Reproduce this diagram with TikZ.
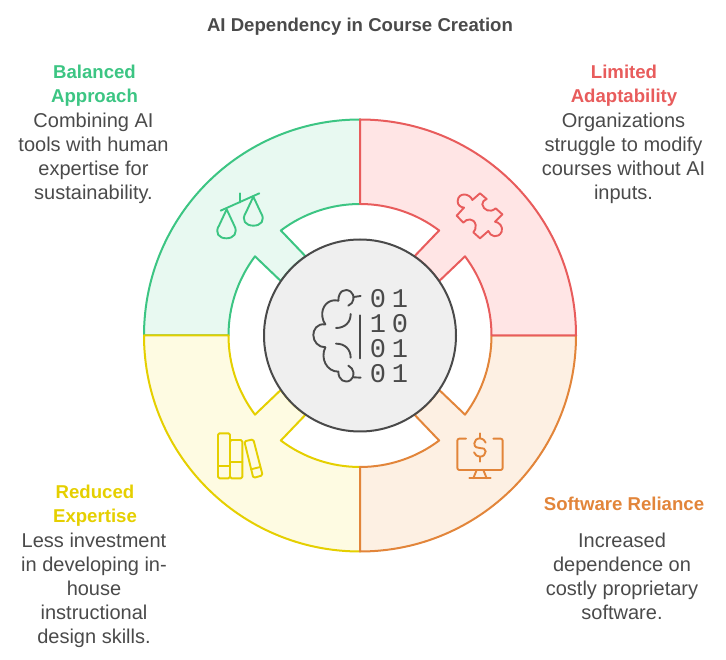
\documentclass[tikz,border=0pt]{standalone}
\usepackage{fontspec}
\setmainfont{Liberation Sans}
\newfontfamily\bitsfont{Liberation Mono}
\usetikzlibrary{arrows.meta}
\definecolor{inkgrey}{HTML}{4A4A4A}
\definecolor{discgrey}{HTML}{EFEFEF}
\definecolor{greenline}{HTML}{3CC583}
\definecolor{greenfill}{HTML}{E8F9F1}
\definecolor{redline}{HTML}{E85C5C}
\definecolor{redfill}{HTML}{FFE5E5}
\definecolor{orangeline}{HTML}{E2853A}
\definecolor{orangefill}{HTML}{FDF0E3}
\definecolor{yellowline}{HTML}{E5CF00}
\definecolor{yellowfill}{HTML}{FEFBE2}
\tikzset{
  headtext/.style={align=center,inner sep=0pt,font=\fontsize{18.6bp}{24bp}\selectfont\bfseries},
  bodytext/.style={align=center,inner sep=0pt,text=inkgrey,font=\fontsize{20bp}{24bp}\selectfont},
  bitstext/.style={inner sep=0pt,text=inkgrey,font=\fontsize{27bp}{27bp}\bitsfont},
  sector/.style={line width=2bp,line join=round},
  glyph/.style={line width=1.9bp,line cap=round,line join=round},
  crop/.style={x=0.33333bp,y=-0.33333bp},
}
\begin{document}
\begin{tikzpicture}[>=latex,line join=round]
\useasboundingbox (0bp,0bp) rectangle (726bp,660bp);
%% four sectors
\coordinate (hub) at (360bp,324.5bp);
\draw [sector,draw=greenline,fill=greenfill] ([shift={(90:216bp)}]hub) arc (90:180:216bp)
  -- ([shift={(180:131.5bp)}]hub) arc (180:143:131.5bp)
  -- ([shift={(145.5:96bp)}]hub) arc (145.5:124.5:96bp)
  -- ([shift={(127:131.5bp)}]hub) arc (127:90:131.5bp) -- cycle;
\draw [sector,draw=yellowline,fill=yellowfill] ([shift={(180:216bp)}]hub) arc (180:270:216bp)
  -- ([shift={(270:131.5bp)}]hub) arc (270:233:131.5bp)
  -- ([shift={(235.5:96bp)}]hub) arc (235.5:214.5:96bp)
  -- ([shift={(217:131.5bp)}]hub) arc (217:180:131.5bp) -- cycle;
\draw [sector,draw=orangeline,fill=orangefill] ([shift={(270:216bp)}]hub) arc (270:360:216bp)
  -- ([shift={(0:131.5bp)}]hub) arc (0:-37:131.5bp)
  -- ([shift={(-34.5:96bp)}]hub) arc (-34.5:-55.5:96bp)
  -- ([shift={(-53:131.5bp)}]hub) arc (-53:-90:131.5bp) -- cycle;
\draw [sector,draw=redline,fill=redfill] ([shift={(0:216bp)}]hub) arc (0:90:216bp)
  -- ([shift={(90:131.5bp)}]hub) arc (90:53:131.5bp)
  -- ([shift={(55.5:96bp)}]hub) arc (55.5:34.5:96bp)
  -- ([shift={(37:131.5bp)}]hub) arc (37:0:131.5bp) -- cycle;
\node (node_disc) at (hub) [circle,minimum size=192bp,inner sep=0pt,draw=inkgrey,fill=discgrey,line width=2bp] {};
%% texts
\node (node_title) at (360bp,633.5bp) [headtext,text=inkgrey] {AI Dependency in Course Creation};
\node (node_balanced) at (94.5bp,574bp) [headtext,text=greenline] {Balanced\\Approach};
\node (node_balanced_text) at (93.5bp,502bp) [bodytext] {Combining AI\\tools with human\\expertise for\\sustainability.};
\node (node_limited) at (624bp,574bp) [headtext,text=redline] {Limited\\Adaptability};
\node (node_limited_text) at (623.5bp,502bp) [bodytext] {Organizations\\struggle to modify\\courses without AI\\inputs.};
\node (node_software) at (624bp,156bp) [headtext,text=orangeline] {Software Reliance};
\node (node_software_text) at (622bp,84bp) [bodytext] {Increased\\dependence on\\costly proprietary\\software.};
\node (node_reduced) at (95bp,154bp) [headtext,text=yellowline] {Reduced\\Expertise};
\node (node_reduced_text) at (94bp,70bp) [bodytext] {Less investment\\in developing in-\\house\\instructional\\design skills.};
\node (node_bits_1) at (389bp,361bp) [bitstext] {0\hspace{5.8bp}1};
\node (node_bits_2) at (389bp,336.7bp) [bitstext] {1\hspace{5.8bp}0};
\node (node_bits_3) at (389bp,311.7bp) [bitstext] {0\hspace{5.8bp}1};
\node (node_bits_4) at (389bp,286.7bp) [bitstext] {0\hspace{5.8bp}1};
%% brain
\begin{scope}[shift={(260bp,425bp)},crop,glyph,draw=inkgrey]
  \draw (265,212) ..controls (283,205) and (286,180) .. (272,170) ..controls (255,158) and (235,168) .. (235,197);
  \draw (281,186) -- (302,183);
  \draw (235,197) ..controls (205,190) and (183,215) .. (187,245) ..controls (188,255) and (192,262) .. (196,268);
  \draw (196,268) ..controls (170,265) and (160,285) .. (160,300) ..controls (160,320) and (175,337) .. (196,337);
  \draw (196,337) ..controls (180,370) and (200,410) .. (235,410);
  \draw (235,410) ..controls (235,435) and (255,447) .. (272,435) ..controls (286,425) and (283,400) .. (265,392);
  \draw (281,427) -- (302,428);
  \draw (228,279) ..controls (255,279) and (272,262) .. (272,237);
  \draw (228,326) ..controls (255,326) and (272,343) .. (272,368);
  \draw (300,241) -- (300,370);
\end{scope}
%% scales
\begin{scope}[shift={(200bp,490bp)},crop,glyph,draw=greenline]
  \draw (62,122) -- (178,70);
  \draw (120,70) -- (120,97);
  \draw (80,118) -- (58,165) ..controls (42,190) and (58,205) .. (79,205) ..controls (100,205) and (116,190) .. (102,165) -- cycle;
  \draw (160,80) -- (138,127) ..controls (122,152) and (138,167) .. (160,167) ..controls (182,167) and (198,152) .. (182,127) -- cycle;
\end{scope}
%% puzzle
\begin{scope}[shift={(440bp,485bp)},crop,glyph,draw=redline]
  \draw (120,55) -- (97,75) ..controls (90,55) and (55,50) .. (53,78) ..controls (52,90) and (62,97) .. (72,98)
    -- (50,122) -- (70,143) ..controls (80,130) and (102,128) .. (107,150) ..controls (108,160) and (105,167) .. (100,172)
    -- (120,190) -- (145,168) ..controls (150,185) and (175,192) .. (185,170) ..controls (190,155) and (178,142) .. (165,140)
    -- (187,118) -- (167,100) ..controls (150,115) and (130,105) .. (127,88) ..controls (127,80) and (132,75) .. (140,72) -- cycle;
\end{scope}
%% books
\begin{scope}[shift={(200bp,260bp)},crop,glyph,draw=yellowline]
  \draw [rounded corners=1.5bp] (54,100) rectangle (90,235);
  \draw (54,198) -- (90,198);
  \draw [rounded corners=1.5bp] (90,120) rectangle (127,235);
  \draw (90,187) -- (127,187);
  \draw [rounded corners=1.5bp] (133,124) -- (160,118) -- (188,226) -- (160,234) -- cycle;
  \draw (153,208) -- (181,201);
\end{scope}
%% monitor
\begin{scope}[shift={(430bp,250bp)},crop,glyph,draw=orangeline]
  \draw [rounded corners=2bp] (108,86) -- (82,86) -- (82,180) -- (218,180) -- (218,86) -- (190,86);
  \draw (140,180) -- (130,205);
  \draw (160,180) -- (170,205);
  \draw (118,205) -- (182,205);
  \draw (150,70) -- (150,85);
  \draw (150,140) -- (150,155);
  \draw (167,98) ..controls (162,88) and (155,85) .. (150,85) ..controls (140,85) and (133,92) .. (133,100) ..controls (133,125) and (167,105) .. (167,124) ..controls (167,133) and (160,140) .. (150,140) ..controls (142,140) and (135,135) .. (132,127);
\end{scope}
%
\end{tikzpicture}
\end{document}
